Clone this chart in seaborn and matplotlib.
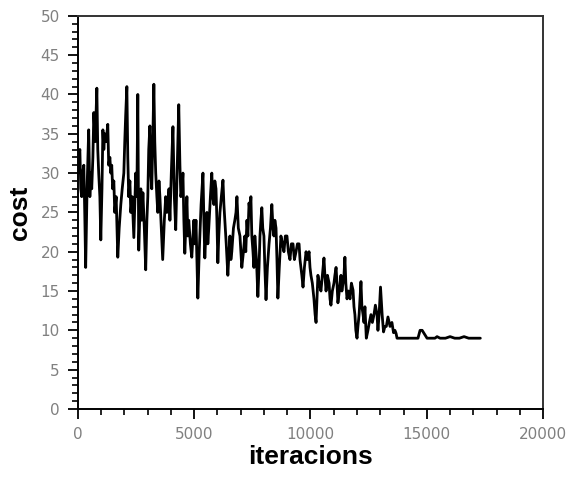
import matplotlib
matplotlib.use("Agg")
import matplotlib.pyplot as plt
from matplotlib.ticker import MultipleLocator
import pandas as pd
import seaborn as sns

# turning points of the cost curve
iteracions = [0, 40, 90, 130, 170, 210, 260, 300, 340, 400, 470, 520, 560, 600, 650,
              690, 750, 820, 860, 900, 950, 990, 1040, 1080, 1120, 1160, 1220,
              1290, 1330, 1380, 1420, 1460, 1500, 1550, 1590, 1650, 1720, 1780, 1850,
              1910, 1980, 2020, 2060, 2110, 2150, 2190, 2240, 2280, 2340,
              2410, 2450, 2490, 2540, 2580, 2620, 2670, 2710, 2750, 2800, 2860, 2920,
              2970, 3010, 3050, 3100, 3140, 3180, 3230, 3270, 3310, 3350, 3400,
              3440, 3490, 3530, 3590, 3650, 3720, 3780, 3830, 3870, 3920, 3960, 4020,
              4090, 4150, 4210, 4270, 4340, 4390, 4430, 4480, 4520, 4560, 4600,
              4650, 4690, 4730, 4770, 4840, 4900, 4950, 4990, 5030, 5080, 5120, 5160,
              5220, 5300, 5380, 5420, 5460, 5500, 5550, 5590, 5630, 5700, 5760, 5800,
              5850, 5890, 5940, 5980, 6020, 6060, 6110, 6170, 6240, 6280, 6320, 6380,
              6450, 6500, 6540, 6580, 6620, 6690, 6750, 6800, 6840, 6900, 6970, 7010,
              7050, 7120, 7180, 7220, 7270, 7310, 7360, 7400, 7440, 7480, 7530, 7570,
              7610, 7680, 7740, 7790, 7830, 7870, 7910, 7950, 8000, 8040, 8090, 8150,
              8220, 8280, 8340, 8390, 8430, 8470, 8520, 8560, 8600, 8660, 8730, 8800,
              8860, 8920, 8990, 9050, 9120, 9180, 9250, 9310, 9380, 9440, 9510, 9550,
              9590, 9630, 9680, 9740, 9810, 9870, 9940, 9980, 10020, 10080, 10150,
              10200, 10240, 10280, 10320, 10380, 10450, 10510, 10580, 10620, 10670,
              10730, 10800, 10840, 10880, 10940, 11010, 11050, 11100, 11140, 11180,
              11240, 11310, 11350, 11400, 11440, 11480, 11520, 11570, 11630, 11700,
              11760, 11830, 11870, 11910, 11950, 12000, 12040, 12090, 12130, 12170,
              12210, 12260, 12300, 12340, 12400, 12470, 12530, 12600, 12660, 12730,
              12790, 12860, 12900, 12950, 13010, 13080, 13140, 13200, 13260, 13330,
              13420, 13500, 13570, 13630, 13680, 13720, 13780, 13810, 14000, 14200,
              14400, 14620, 14710, 14800, 15010, 15100, 15350, 15440, 15570, 15800,
              16000, 16200, 16400, 16600, 16800, 17000, 17300]
cost = [30, 32, 33, 28, 27, 30, 31, 25, 18, 28, 35.5, 27, 30, 28, 32,
        37.7, 34, 40.8, 33, 30, 27, 21.5, 28, 35.5, 33, 35, 34,
        36.2, 31, 32, 30, 31, 28, 29, 25, 27, 19.3, 23, 26,
        28, 30, 34, 37.4, 41, 32, 27, 29, 25, 27,
        21.8, 26, 30, 27, 40, 20.2, 25, 28, 24, 27.5, 23, 17.7,
        24, 27, 33, 36, 30, 28, 35, 41.3, 34, 30, 27,
        25, 29, 27, 23, 19, 24, 27, 25, 26, 28, 24, 30,
        35.9, 27, 22.8, 30, 38.7, 31, 27, 28, 30, 24, 19.8,
        24, 27, 22, 24, 21, 19.3, 22, 24, 21, 24, 19, 14.1,
        20, 26, 30, 24, 19.2, 22, 25, 21, 23, 27, 30, 27,
        26, 29, 28, 24, 18.6, 22, 25, 27, 29.1, 26, 24, 21,
        17, 20, 22, 19, 20, 23, 24, 25, 27, 23, 22, 20,
        18, 20, 22, 20, 24, 22, 26.2, 25, 27, 22, 20, 18,
        22, 19, 14.3, 18, 22, 24, 25.6, 23, 22, 18, 13.9, 18,
        21, 23, 26, 23, 22, 24, 23, 19, 14.1, 18, 22, 21,
        20, 22, 22, 20, 19, 21, 21, 19, 20, 21, 21, 19,
        18, 17, 15.5, 18, 20, 19, 20, 18, 17, 16, 14,
        12, 11, 14, 17, 16, 15, 17, 19.2, 17, 15,
        17, 16, 14, 13.2, 15, 16, 17, 18, 16, 13.5,
        15, 17, 15, 16, 17, 19.3, 16, 14, 15, 14,
        16, 15.1, 13, 12, 10, 9, 10.5, 12, 14, 16.2,
        13, 12, 11, 13, 9, 10, 11, 12, 11, 12,
        13.2, 12, 10, 12, 15.5, 12, 9.8, 10.5, 10.5, 11.7,
        10.5, 11, 9.7, 10, 9.6, 9, 9, 9, 9, 9,
        9, 9, 10, 10, 9, 9, 9, 9.2, 9, 9,
        9.2, 9, 9, 9.2, 9, 9, 9]

df = pd.DataFrame({"iteracions": iteracions, "cost": cost})

sns.set_style("ticks")
plt.rcParams["font.family"] = ["DejaVu Sans"]

fig = plt.figure(figsize=(5.76, 4.8), dpi=100)
ax = fig.add_axes([0.135, 0.148, 0.808, 0.819])

sns.lineplot(data=df, x="iteracions", y="cost", sort=False, estimator=None,
             color="black", linewidth=2.0, ax=ax)

ax.set_xlim(0, 20000)
ax.set_ylim(0, 50)
ax.xaxis.set_major_locator(MultipleLocator(5000))
ax.xaxis.set_minor_locator(MultipleLocator(1000))
ax.yaxis.set_major_locator(MultipleLocator(5))
ax.yaxis.set_minor_locator(MultipleLocator(1))
ax.tick_params(which="major", length=7, width=1.3, color="black",
               labelsize=11, labelcolor="#808080", pad=6)
ax.tick_params(which="minor", length=4, width=1.2, color="black")

for s in ax.spines.values():
    s.set_linewidth(1.4)
    s.set_color("black")
ax.spines["top"].set_color("#333333")
ax.spines["right"].set_color("#333333")

ax.set_xlabel("iteracions", fontsize=19, fontweight="bold", color="black",
              family="Liberation Sans", labelpad=2)
ax.set_ylabel("cost", fontsize=19, fontweight="bold", color="black",
              family="Liberation Sans", labelpad=6)

fig.savefig("out.png", dpi=100)
